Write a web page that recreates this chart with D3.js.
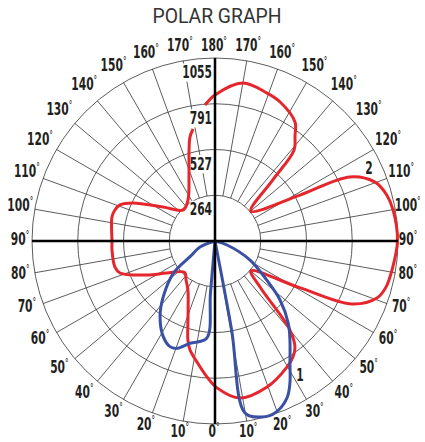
<!DOCTYPE html>
<html>
<head>
<meta charset="utf-8">
<script src="https://cdn.jsdelivr.net/npm/d3@7"></script>
<style>
body { margin: 0; background: #fff; }
text { font-family: "DejaVu Sans Condensed", "DejaVu Sans", sans-serif; font-weight: bold; fill: #231f20; }
</style>
</head>
<body>
<div id="chart"></div>
<script>
// radial rings and their labels
var radialTicks = [263.75, 527.5, 791.25, 1055];
var radialLabels = ["264", "527", "791", "1055"];
// angle ticks (0 at bottom, 180 at top, both halves)
var angleTicks = [0, 10, 20, 30, 40, 50, 60, 70, 80, 90, 100, 110, 120, 130, 140, 150, 160, 170, 180];

// series 2 (red): angle (+ right half, - left half), value
var redAngles = [-175.8, 180, 170, 160.6, 154.9, 146.1, 142.7, 139, 136.5, 129.8, 118.4, 115.4, 110.2, 105, 99.9, 90, 80.7, 74.9, 70.6, 65.3, 61.1, 50.2, 44.4, 40.1, 37, 33.9, 29.7, 19.6, 9, 0.8, -3.4, -8.5, -12.9, -15.3, -20, -28.9, -36.6, -44, -56.3, -63.4, -71.4, -75.4, -85, -90, -103.1, -107.2, -110.8, -114.9, -123.2, -134.4, -146.6, -158.5, -164.1, -166.5, -168.9];
var redValues = [786, 842, 925, 904, 885, 827, 761, 695, 481, 270, 557, 861, 983, 1025, 1042, 1052, 1034, 1021, 990, 869, 557, 270, 371, 671, 766, 806, 837, 894, 917, 847, 785, 705, 645, 592, 454, 323, 280, 252, 333, 438, 578, 596, 596, 594, 610, 604, 586, 521, 358, 256, 283, 409, 546, 617, 658];

// series 1 (blue): two lobes, each starting and ending at the centre
var blueAngles = [0, 71.6, 61.5, 53, 47.8, 41.7, 37.1, 31.5, 27.8, 24.6, 19.2, 14.95, 9.9, 10.6, 0, -5, -4.9, -13.7, -19.6, -23.1, -28.4, -36, -42.9, -52.2, -57.9, -68, 0];
var blueValues = [0, 73, 230, 373, 506, 635, 716, 827, 926, 996, 1050, 1050, 1007, 520, 0, 300, 563, 607, 657, 662, 627, 539, 438, 304, 170, 93, 0];

var width = 425, height = 442;
var cx = 215, cy = 241, R = 183;
var squeeze = "scale(0.66,1)";

var svg = d3.select("#chart").append("svg")
	.attr("width", width)
	.attr("height", height);

svg.append("text")
	.attr("x", 217)
	.attr("y", 23)
	.attr("text-anchor", "middle")
	.attr("textLength", 129)
	.attr("lengthAdjust", "spacingAndGlyphs")
	.style("font-family", "Roboto, 'Liberation Sans', sans-serif")
	.style("font-weight", "normal")
	.style("font-size", "20px")
	.style("fill", "#333")
	.text("POLAR GRAPH");

var r = d3.scaleLinear().domain([0, 1055]).range([0, R]);
var g = svg.append("g").attr("transform", "translate(" + cx + "," + cy + ")");

function px(a, rad) { return rad * Math.sin(a * Math.PI / 180); }
function py(a, rad) { return rad * Math.cos(a * Math.PI / 180); }

// rings
g.selectAll("circle.ring")
	.data(radialTicks)
	.enter().append("circle")
	.attr("class", "ring")
	.attr("r", function(d) { return r(d); })
	.attr("fill", "none")
	.attr("stroke", "#333")
	.attr("stroke-width", 0.8);

// spokes, every 10 degrees on both halves
var spokes = [];
angleTicks.forEach(function(a) {
	if (a % 90 === 0) return;
	spokes.push(a, -a);
});
g.selectAll("line.spoke")
	.data(spokes)
	.enter().append("line")
	.attr("class", "spoke")
	.attr("x1", function(a) { return px(a, r(radialTicks[0])); })
	.attr("y1", function(a) { return py(a, r(radialTicks[0])); })
	.attr("x2", function(a) { return px(a, R); })
	.attr("y2", function(a) { return py(a, R); })
	.attr("stroke", "#333")
	.attr("stroke-width", 0.8);

// angle labels
var angleLabels = [];
angleTicks.forEach(function(a) {
	angleLabels.push(a);
	if (a !== 0 && a !== 180) angleLabels.push(-a);
});
function labR(a) { return 194 + 8 * Math.abs(Math.sin(2 * a * Math.PI / 180)); }
var lab = g.selectAll("text.ang")
	.data(angleLabels)
	.enter().append("text")
	.attr("class", "ang")
	.attr("transform", function(a) {
		var dy = 4 - 2 * Math.max(0, Math.cos(a * Math.PI / 180));
		return "translate(" + (px(a, labR(a)) - 1) + "," + (py(a, labR(a)) + dy) + ") " + squeeze;
	})
	.attr("text-anchor", "middle")
	.style("font-size", "18px");
lab.append("tspan").text(function(a) { return Math.abs(a); });
lab.append("tspan").attr("dy", -6).style("font-size", "12px").style("font-weight", "normal").text("°");

// radial labels with white boxes
var rl = g.selectAll("g.rlab")
	.data(radialTicks)
	.enter().append("g")
	.attr("class", "rlab")
	.attr("transform", function(d) { return "translate(-3," + (-r(d) + 20) + ") " + squeeze; });
rl.append("text")
	.attr("text-anchor", "end")
	.style("font-size", "18px")
	.text(function(d, i) { return radialLabels[i]; });
rl.each(function() {
	var b = d3.select(this).select("text").node().getBBox();
	d3.select(this).insert("rect", "text")
		.attr("x", b.x + 1)
		.attr("y", b.y + 2)
		.attr("width", b.width - 1)
		.attr("height", b.height - 3)
		.attr("fill", "#fff");
});

var line = d3.lineRadial()
	.angle(function(d) { return (180 - d.a) * Math.PI / 180; })
	.radius(function(d) { return r(d.v); })
	.curve(d3.curveCatmullRom.alpha(0.5));

var red = redAngles.map(function(a, i) { return { a: a, v: redValues[i] }; });
g.append("path")
	.attr("d", line(red))
	.attr("fill", "none")
	.attr("stroke", "#e5262c")
	.attr("stroke-width", 3);

// split blue at the centre points
var blue = blueAngles.map(function(a, i) { return { a: a, v: blueValues[i] }; });
var lobes = [], cur = [];
blue.forEach(function(d) {
	cur.push(d);
	if (d.v === 0 && cur.length > 1) { lobes.push(cur); cur = [d]; }
});
g.selectAll("path.blue")
	.data(lobes)
	.enter().append("path")
	.attr("class", "blue")
	.attr("d", line)
	.attr("fill", "none")
	.attr("stroke", "#3a51a3")
	.attr("stroke-width", 3);

// axes
g.append("line").attr("x1", -R).attr("x2", R).attr("y1", 0).attr("y2", 0)
	.attr("stroke", "#000").attr("stroke-width", 2.5);
g.append("line").attr("x1", 0).attr("x2", 0).attr("y1", -R).attr("y2", R)
	.attr("stroke", "#000").attr("stroke-width", 2.5);

// series labels
g.append("text").attr("transform", "translate(85,140) " + squeeze).attr("text-anchor", "middle")
	.style("font-size", "18px").text("1");
g.append("text").attr("transform", "translate(154,-67) " + squeeze).attr("text-anchor", "middle")
	.style("font-size", "18px").text("2");
</script>
</body>
</html>
